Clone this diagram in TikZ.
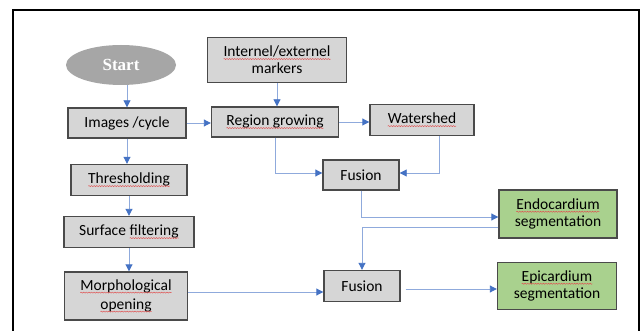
\documentclass[tikz,border=0pt]{standalone}
\usepackage{fontspec}
\setmainfont{Carlito}
\newfontfamily\startfont{Liberation Serif}
\usetikzlibrary{arrows.meta,decorations.pathmorphing,calc,shapes.geometric}
\definecolor{boxgray}{HTML}{D6D6D6}
\definecolor{boxedge}{HTML}{4A4A4A}
\definecolor{boxgreen}{HTML}{A9D18E}
\definecolor{startgray}{HTML}{A6A6A6}
\definecolor{arrline}{HTML}{8FAADC}
\definecolor{arrhead}{HTML}{4472C4}
\definecolor{squigred}{HTML}{E05050}
\newcommand\sqw[1]{\tikz[baseline=(w.base)]{\node[draw=none,fill=none,inner sep=0pt,outer sep=0pt,minimum size=0pt](w){#1};\draw[squigred,line width=0.45pt,decorate,decoration={snake,amplitude=0.55pt,segment length=2.6pt}] ([yshift=-2.2pt]w.base west) -- ([yshift=-2.2pt]w.base east);}}
\tikzset{
  graybox/.style={draw=boxedge,line width=1.4pt,fill=boxgray,inner sep=0pt,align=center,font=\fontsize{15.5}{17}\selectfont},
  greenbox/.style={graybox,fill=boxgreen},
  arr/.style={draw=arrline,line width=0.9pt,-{Triangle[length=7pt,width=7pt,color=arrhead]}},
}
\begin{document}
\begin{tikzpicture}[x=1pt,y=-1pt]
\useasboundingbox (0,0) rectangle (642,331);
\clip (0,0) rectangle (642,331);
\fill[white] (0,0) rectangle (642,331);
\draw[black,line width=1.5pt] (13,10) rectangle (639,345);

\node[ellipse,fill=startgray,minimum width=110pt,minimum height=40pt,inner sep=0pt,text=white,font=\startfont\bfseries\fontsize{17}{19}\selectfont] (start) at (121,65) {Start};
\node[graybox,minimum width=118pt,minimum height=30pt] (img) at (127,123) {Images /cycle};
\node[graybox,minimum width=139pt,minimum height=45pt] (mark) at (277,60) {\sqw{Internel/externel}\\markers};
\node[graybox,minimum width=127pt,minimum height=30pt] (reg) at (275,122) {\sqw{Region growing}};
\node[graybox,minimum width=104pt,minimum height=31pt] (wat) at (422,120) {\sqw{Watershed}};
\node[graybox,minimum width=76pt,minimum height=30pt] (fus1) at (361,175) {Fusion};
\node[graybox,minimum width=116pt,minimum height=31pt] (thr) at (129,180) {\sqw{Thresholding}};
\node[graybox,minimum width=130pt,minimum height=31pt] (surf) at (129,232) {Surface \sqw{filtering}};
\node[graybox,minimum width=123pt,minimum height=48pt] (morph) at (126,296) {\sqw{Morphological}\\[2pt]\sqw{opening}};
\node[graybox,minimum width=76pt,minimum height=31pt] (fus2) at (362,286) {Fusion};
\node[greenbox,minimum width=118pt,minimum height=48pt] (endo) at (558,214) {\sqw{Endocardium}\\segmentation};
\node[greenbox,minimum width=119pt,minimum height=47pt] (epi) at (557,286) {\sqw{Epicardium}\\segmentation};

\draw[arr] (start.south -| img.north) -- (img.north);
\draw[arr] (img.south) -- (img.south |- thr.north);
\draw[arr] (thr.south) -- (thr.south |- surf.north);
\draw[arr] (surf.south) -- (surf.south |- morph.north);
\draw[arr] (img.east) -- (img.east -| reg.west);
\draw[arr] (mark.south) -- (mark.south |- reg.north);
\draw[arr] (reg.east) -- (reg.east -| wat.west);
\draw[arr] (reg.south) |- ([yshift=2pt]fus1.west);
\draw[arr] ([xshift=17pt]wat.south) |- ([yshift=2pt]fus1.east);
\draw[arr] (fus1.south) |- ([yshift=-3pt]endo.west);
\draw[arr] ([yshift=-13pt]endo.west) -| (fus2.north);
\draw[arr] ([yshift=4pt]morph.east) -- ([yshift=4pt]morph.east -| fus2.west);
\draw[arr,shorten <=5pt] ([yshift=-3pt]fus2.east) -- ([yshift=-3pt]fus2.east -| epi.west);
\end{tikzpicture}
\end{document}
